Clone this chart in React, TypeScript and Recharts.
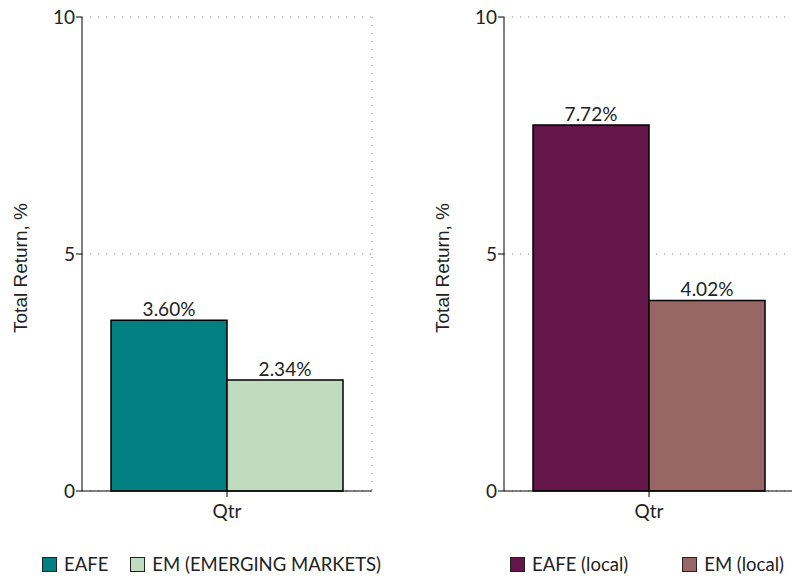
import React from "react";
import {
  BarChart,
  Bar,
  XAxis,
  YAxis,
  CartesianGrid,
  Legend,
  LabelList,
} from "recharts";

const categories = ["Qtr"];
const eafe = [3.6];
const em = [2.34];
const eafeLocal = [7.72];
const emLocal = [4.02];
const yTicks = [0, 5, 10];

const FONT = "Lato, 'Open Sans', sans-serif";
const LABEL_FONT = "'Liberation Sans', Arial, sans-serif";

const leftData = categories.map((name, i) => ({ name, eafe: eafe[i], em: em[i] }));
const rightData = categories.map((name, i) => ({
  name,
  eafeLocal: eafeLocal[i],
  emLocal: emLocal[i],
}));

const fmt = (v: any) => `${Number(v).toFixed(2)}%`;

function LegendBox({ items, gap }: any) {
  return (
    <div style={{ display: "flex", alignItems: "center", fontFamily: FONT, fontSize: 18.5, color: "#222", whiteSpace: "nowrap" }}>
      {items.map((it: any, i: number) => (
        <div key={it.label} style={{ display: "flex", alignItems: "center", marginLeft: i ? gap : 0 }}>
          <span
            style={{
              display: "inline-block",
              width: 13,
              height: 13,
              background: it.color,
              border: "1px solid #222",
              marginRight: 7,
            }}
          />
          <span>{it.label}</span>
        </div>
      ))}
    </div>
  );
}

function Panel({ data, series, legendLeft, gap }: any) {
  return (
    <BarChart
      width={400}
      height={579}
      data={data}
      margin={{ top: 17, right: 28, left: 0, bottom: 0 }}
      barCategoryGap="10%"
      barGap={0}
    >
      <CartesianGrid
        stroke="#888"
        strokeDasharray="1 7"
        verticalCoordinatesGenerator={({ offset }: any) => [offset.left + offset.width]}
      />
      <XAxis
        dataKey="name"
        height={88}
        stroke="#000"
        tickSize={6}
        tick={{ fill: "#222", fontSize: 19, fontFamily: FONT }}
        tickMargin={8}
      />
      <YAxis
        width={82}
        domain={[0, 10]}
        ticks={yTicks}
        stroke="#000"
        tickSize={6}
        tickMargin={1}
        tick={{ fill: "#222", fontSize: 19, fontFamily: FONT }}
        label={{
          value: "Total Return, %",
          angle: -90,
          position: "center",
          dx: -21,
          dy: 14,
          fill: "#222",
          fontSize: 19,
          fontFamily: LABEL_FONT,
        }}
      />
      <Legend
        verticalAlign="middle"
        align="center"
        wrapperStyle={{ top: 553, left: legendLeft, width: "auto" }}
        content={() => <LegendBox items={series} gap={gap} />}
      />
      {series.map((s: any) => (
        <Bar
          key={s.key}
          dataKey={s.key}
          name={s.label}
          fill={s.color}
          stroke="#000"
          strokeWidth={1.5}
          isAnimationActive={false}
        >
          <LabelList
            dataKey={s.key}
            position="top"
            offset={4}
            formatter={fmt}
            style={{ fill: "#222", fontSize: 19, fontFamily: FONT }}
          />
        </Bar>
      ))}
    </BarChart>
  );
}

export default function App() {
  return (
    <div
      style={{
        position: "absolute",
        left: 0,
        top: 0,
        width: 792,
        height: 579,
        overflow: "hidden",
        background: "#fff",
      }}
    >
      <div style={{ position: "absolute", left: 0, top: 0 }}>
        <Panel
          data={leftData}
          legendLeft={42}
          gap={22}
          series={[
            { key: "eafe", label: "EAFE", color: "#008080" },
            { key: "em", label: "EM (EMERGING MARKETS)", color: "#c0dcc0" },
          ]}
        />
      </div>
      <div style={{ position: "absolute", left: 422, top: 0 }}>
        <Panel
          data={rightData}
          legendLeft={88}
          gap={54}
          series={[
            { key: "eafeLocal", label: "EAFE (local)", color: "#64154a" },
            { key: "emLocal", label: "EM (local)", color: "#996666" },
          ]}
        />
      </div>
    </div>
  );
}
